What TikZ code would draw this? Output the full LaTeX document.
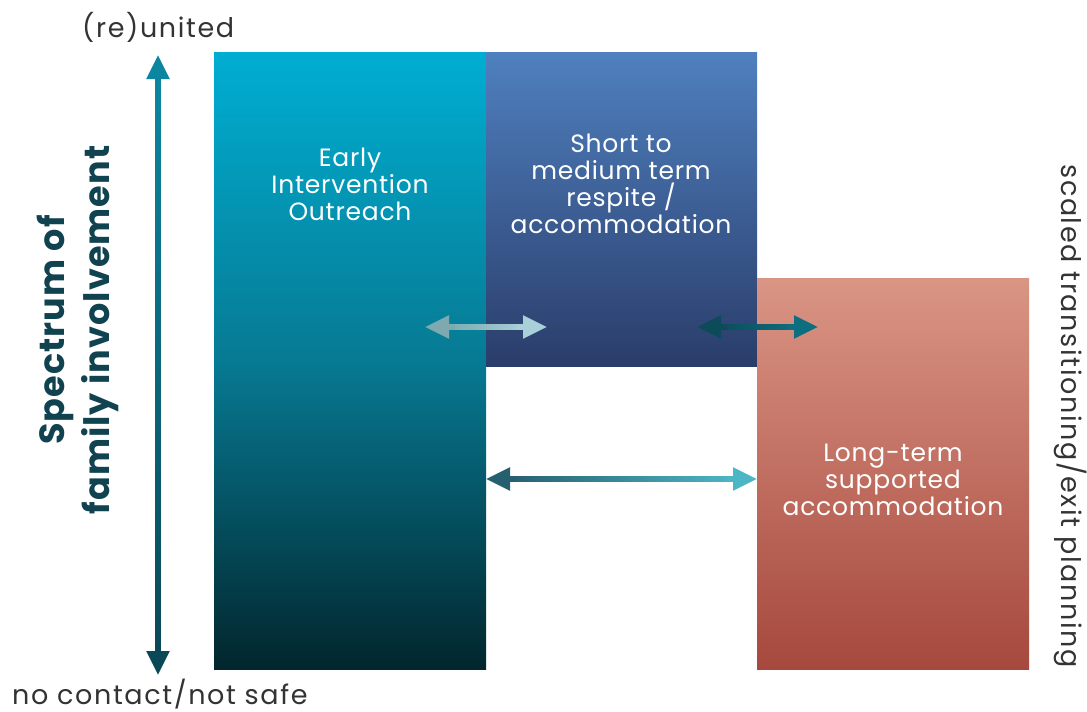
\documentclass[tikz,border=0pt]{standalone}
\usepackage{fontspec}
\setmainfont{Poppins}
\usetikzlibrary{arrows.meta,calc}
\definecolor{cyanT}{HTML}{00AED2}
\definecolor{cyanM}{HTML}{077A93}
\definecolor{cyanB}{HTML}{02262D}
\definecolor{blueT}{HTML}{4F80BF}
\definecolor{blueB}{HTML}{2A3D6A}
\definecolor{salT}{HTML}{DA9584}
\definecolor{salB}{HTML}{A6483E}
\definecolor{txt}{HTML}{333333}
\definecolor{spec}{HTML}{10424F}
\definecolor{aLa}{HTML}{7DA9B0}
\definecolor{aLb}{HTML}{A9D0D8}
\definecolor{aDa}{HTML}{0D4B5A}
\definecolor{aDb}{HTML}{0D6E80}
\definecolor{aBa}{HTML}{265F70}
\definecolor{aBb}{HTML}{4DB6C4}
\definecolor{vT}{HTML}{0C86A0}
\definecolor{vB}{HTML}{0A4858}
\tikzset{
  boxtext/.style={text=white, align=center, font=\fontsize{25}{27}\selectfont\addfontfeature{LetterSpace=3}, inner sep=0},
  sidetext/.style={text=txt, font=\fontsize{27}{30}\selectfont\addfontfeature{LetterSpace=6}, inner sep=0},
  headL/.style={line width=5pt, -{Triangle[length=24pt,width=22pt]}},
}
\begin{document}
\begin{tikzpicture}[x=1pt,y=-1pt]
\useasboundingbox (0,0) rectangle (1087,712);
% boxes
\shade[top color=cyanT, bottom color=cyanB, middle color=cyanM] (214,52) rectangle (486,669);
\shade[top color=blueT, bottom color=blueB] (486,52) rectangle (757,366);
\shade[top color=salT, bottom color=salB] (757,278) rectangle (1029,669);
% box texts
\node[boxtext] (early) at (350,184) {Early\\Intervention\\Outreach};
\node[boxtext] (short) at (621,184) {Short to\\medium term\\respite /\\accommodation};
\node[boxtext] (long) at (893,480) {Long-term\\supported\\accommodation};
% side texts
\node[sidetext, anchor=base west] (reunited) at (82,37) {(re)united};
\node[sidetext, anchor=base west] (nocontact) at (12,704) {no contact/not safe};
\node[text=spec, align=center, rotate=90, font=\fontsize{35}{45}\selectfont\bfseries\addfontfeature{LetterSpace=3}, inner sep=0] (spectrum) at (78,330) {Spectrum of\\family involvement};
\node[sidetext, rotate=-90] (scaled) at (1071,416) {scaled transitioning/exit planning};
% vertical arrow
\coordinate (vtop) at (158,55);
\coordinate (vbot) at (158,675);
\shade[top color=vT, bottom color=vB] ($(vtop)+(-2.5,20)$) rectangle ($(vbot)+(2.5,-20)$);
\draw[headL, vT] ($(vtop)+(0,30)$) -- (vtop);
\draw[headL, vB] ($(vbot)+(0,-30)$) -- (vbot);
% light arrow
\coordinate (la) at (425,327);
\coordinate (lb) at (547,327);
\shade[left color=aLa, right color=aLb] ($(la)+(20,-2.5)$) rectangle ($(lb)+(-20,2.5)$);
\draw[headL, aLa] ($(la)+(30,0)$) -- (la);
\draw[headL, aLb] ($(lb)+(-30,0)$) -- (lb);
% dark arrow
\coordinate (da) at (697,327);
\coordinate (db) at (818,327);
\shade[left color=aDa, right color=aDb] ($(da)+(20,-2.5)$) rectangle ($(db)+(-20,2.5)$);
\draw[headL, aDa] ($(da)+(30,0)$) -- (da);
\draw[headL, aDb] ($(db)+(-30,0)$) -- (db);
% bottom arrow
\coordinate (ba) at (486,479);
\coordinate (bb) at (757,479);
\shade[left color=aBa, right color=aBb] ($(ba)+(20,-2.5)$) rectangle ($(bb)+(-20,2.5)$);
\draw[headL, aBa] ($(ba)+(30,0)$) -- (ba);
\draw[headL, aBb] ($(bb)+(-30,0)$) -- (bb);
\end{tikzpicture}
\end{document}
